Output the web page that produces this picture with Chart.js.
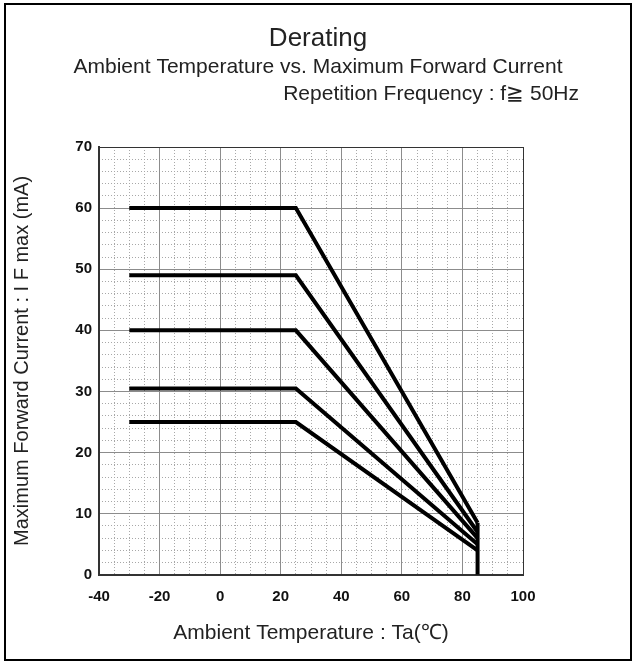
<!DOCTYPE html>
<html>
<head>
<meta charset="utf-8">
<title>Derating</title>
<script src="https://cdn.jsdelivr.net/npm/chart.js@4.4.1/dist/chart.umd.min.js"></script>
<style>
  html, body { margin: 0; padding: 0; background: #fff; }
  #wrap { position: relative; width: 636px; height: 664px; }
  #frame { position: absolute; left: 4px; top: 3px; width: 624px; height: 654px; border: 2px solid #000; pointer-events: none; }
</style>
</head>
<body>
<div id="wrap">
  <canvas id="deratingCanvas" width="636" height="664"></canvas>
  <div id="frame"></div>
</div>
<script>
// axes
const tempMin = -40, tempMax = 100, tempStep = 20, tempMinorStep = 5;
const currentMin = 0, currentMax = 70, currentStep = 10, currentMinorStep = 2;

// curve points (Ta in degC, If in mA)
const curveTemps = [-30, 25, 85];
const curve60 = [60, 60, 8.5];
const curve49 = [49, 49, 7];
const curve40 = [40, 40, 6];
const curve30 = [30.5, 30.5, 5];
const curve25 = [25, 25, 4];
const cutoffTemps = [85, 85];
const cutoffCurrents = [0, 8.5];

const fontFamily = '"Liberation Sans", Arial, Helvetica, sans-serif';
const noteText = 'Repetition Frequency : f\u2267 50Hz';

function toPoints(xs, ys) {
    return xs.map((x, i) => ({ x: x, y: ys[i] }));
}

function curveDataset(ys) {
    return {
        data: toPoints(curveTemps, ys),
        borderColor: '#000',
        borderWidth: 4,
        pointRadius: 0,
        fill: false,
        tension: 0
    };
}

//3eme ligne du titre, alignee a droite
const headerNote = {
    id: 'headerNote',
    afterDraw(chart) {
        const ctx = chart.ctx;
        ctx.save();
        ctx.font = '21px ' + fontFamily;
        ctx.fillStyle = '#222';
        ctx.textAlign = 'right';
        ctx.textBaseline = 'alphabetic';
        ctx.fillText(noteText, 579, 100);
        ctx.restore();
    }
};

const edgeColor = (lo, hi) => ctx =>
    (ctx.tick && (ctx.tick.value === lo || ctx.tick.value === hi)) ? '#333' : '#8c8c8c';

const deratingCanvas = document.getElementById('deratingCanvas');
const deratingChart = new Chart(deratingCanvas, {
    type: 'line',
    data: {
        datasets: [
            curveDataset(curve60),
            curveDataset(curve49),
            curveDataset(curve40),
            curveDataset(curve30),
            curveDataset(curve25),
            {
                data: toPoints(cutoffTemps, cutoffCurrents),
                borderColor: '#000',
                borderWidth: 4,
                pointRadius: 0,
                fill: false
            }
        ]
    },
    options: {
        responsive: false,
        animation: false,
        devicePixelRatio: 1,
        layout: { padding: 0 },
        plugins: {
            legend: { display: false },
            tooltip: { enabled: false },
            title: {
                display: true,
                text: 'Derating',
                color: '#222',
                font: { family: fontFamily, size: 26, weight: 'normal' },
                padding: { top: 23, bottom: 0 }
            },
            subtitle: {
                display: true,
                text: 'Ambient Temperature vs. Maximum Forward Current',
                color: '#222',
                font: { family: fontFamily, size: 21 },
                padding: { top: 0, bottom: 67.6 }
            }
        },
        scales: {
            //grille pointillee (mineure)
            xMinor: {
                type: 'linear', position: 'bottom',
                min: tempMin, max: tempMax,
                afterFit: s => { s.height = 0; },
                ticks: { display: false, stepSize: tempMinorStep },
                grid: { drawTicks: false, color: '#a8a8a8', lineWidth: 1 },
                border: { display: false, dash: [1, 2] }
            },
            yMinor: {
                type: 'linear', position: 'left',
                min: currentMin, max: currentMax,
                afterFit: s => { s.width = 0; },
                ticks: { display: false, stepSize: currentMinorStep },
                grid: { drawTicks: false, color: '#a8a8a8', lineWidth: 1 },
                border: { display: false, dash: [1, 2] }
            },
            x: {
                type: 'linear', position: 'bottom',
                min: tempMin, max: tempMax,
                ticks: {
                    stepSize: tempStep, padding: 13, color: '#111',
                    font: { family: fontFamily, size: 15, weight: 'bold' }
                },
                grid: { drawTicks: false, color: edgeColor(tempMin, tempMax), lineWidth: 1 },
                border: { color: '#333', width: 2 },
                title: {
                    display: true,
                    text: 'Ambient Temperature : Ta(\u2103)',
                    color: '#222',
                    font: { family: fontFamily, size: 21 },
                    padding: { top: 2, bottom: 18 }
                }
            },
            y: {
                type: 'linear', position: 'left',
                min: currentMin, max: currentMax,
                afterFit: s => { s.width = 99; },
                ticks: {
                    stepSize: currentStep, padding: 7, color: '#111',
                    font: { family: fontFamily, size: 15, weight: 'bold' }
                },
                grid: { drawTicks: false, color: edgeColor(currentMin, currentMax), lineWidth: 1 },
                border: { color: '#333', width: 2 },
                title: {
                    display: true,
                    text: 'Maximum Forward Current : I F max (mA)',
                    color: '#222',
                    font: { family: fontFamily, size: 20 },
                    padding: { top: 10, bottom: 0 }
                }
            },
            //espace a droite du graphique
            yRight: {
                type: 'linear', position: 'right',
                min: currentMin, max: currentMax,
                afterFit: s => { s.width = 113; },
                ticks: { display: false },
                grid: { display: false, drawTicks: false },
                border: { display: false }
            }
        }
    },
    plugins: [headerNote]
});
</script>
</body>
</html>
